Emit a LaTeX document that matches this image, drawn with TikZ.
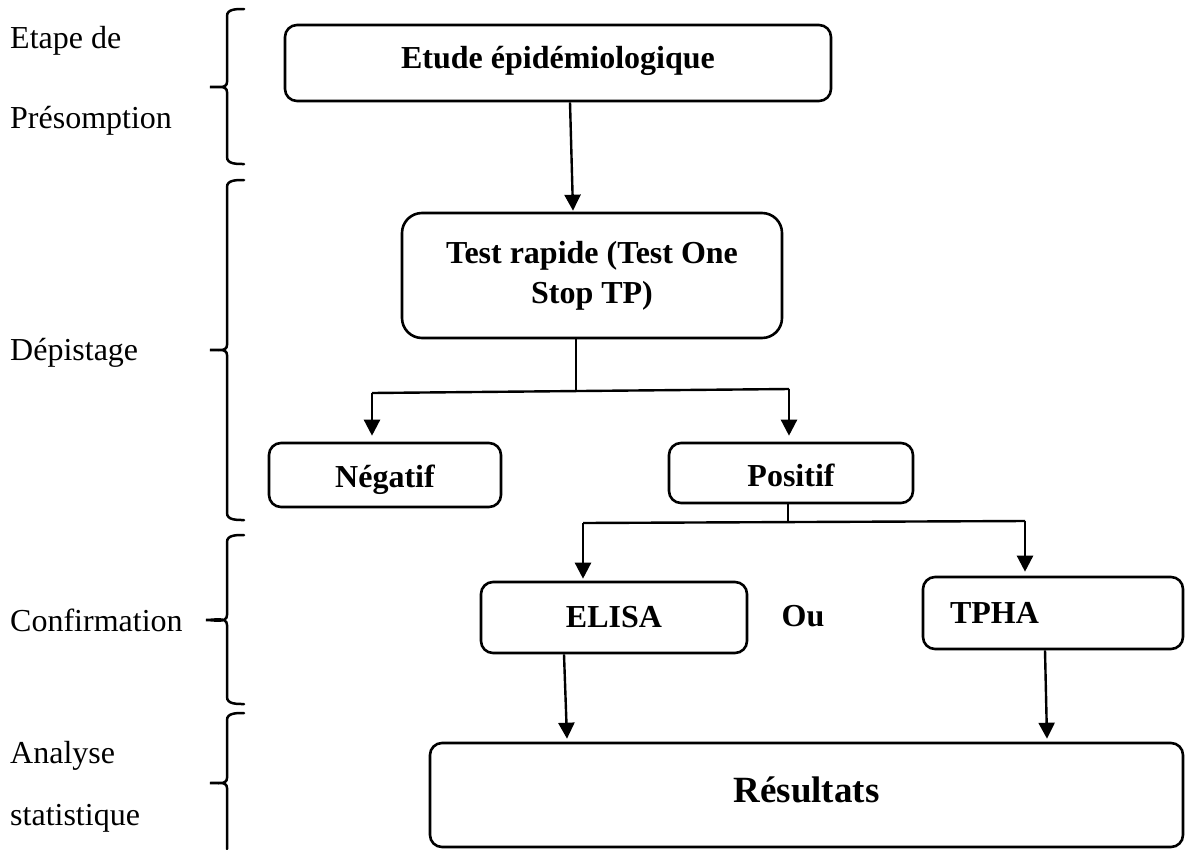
\documentclass[tikz,border=0pt]{standalone}
\usepackage{fontspec}
\setmainfont{Liberation Serif}
\usetikzlibrary{arrows.meta}
\begin{document}
\begin{tikzpicture}[x=1pt,y=-1pt,
  box/.style={draw, line width=2.6pt, rounded corners=12pt, inner sep=0pt, align=center,
              font=\fontsize{32}{40}\selectfont\bfseries},
  conn/.style={line width=2.4pt},
  arr/.style={line width=2.4pt, -{Triangle[length=16pt,width=16pt]}},
  side/.style={anchor=base west, inner sep=0pt, font=\fontsize{32}{40}\selectfont},
  brace/.style={line width=2.5pt, line cap=round}
]
\useasboundingbox (0,0) rectangle (1186,849);

% left labels
\node[side] (l1a) at (10,48) {Etape de};
\node[side] (l1b) at (10,128) {Présomption};
\node[side] (l2) at (10,360) {Dépistage};
\node[side] (l3) at (10,631) {Confirmation};
\node[side] (l4a) at (10,763) {Analyse};
\node[side] (l4b) at (10,825) {statistique};

% braces
\draw[brace] (244,9) to[out=180,in=90] (227,16) -- (227,82) to[out=-90,in=0] (210,87)
  to[out=0,in=90] (227,92) -- (227,157) to[out=-90,in=180] (244,164);
\draw[brace] (244,180) to[out=180,in=90] (227,187) -- (227,345) to[out=-90,in=0] (210,350)
  to[out=0,in=90] (227,355) -- (227,513) to[out=-90,in=180] (244,520);
\draw[brace] (244,535) to[out=180,in=90] (227,542) -- (227,615) to[out=-90,in=0] (206,620)
  to[out=0,in=90] (227,625) -- (227,697) to[out=-90,in=180] (244,704);
\draw[brace] (244,713) to[out=180,in=90] (227,720) -- (227,778) to[out=-90,in=0] (210,783)
  to[out=0,in=90] (227,788) -- (227,849);

% boxes
\node[box, minimum width=546pt, minimum height=76pt, text height=22pt, text depth=11pt] (etude) at (558,63) {Etude épidémiologique};
\node[box, rounded corners=20pt, minimum width=380pt, minimum height=125pt] (test) at (592,275.5)
  {Test rapide (Test One\\Stop TP)};
\node[box, minimum width=232pt, minimum height=64pt, text height=30pt, text depth=5pt] (neg) at (385,475) {Négatif};
\node[box, minimum width=244pt, minimum height=60pt, text height=30pt, text depth=3pt] (pos) at (791,473) {Positif};
\node[box, minimum width=266pt, minimum height=71pt, text height=27pt, text depth=7pt] (elisa) at (614,617.5) {ELISA};
\node[box, minimum width=260pt, minimum height=72pt, text width=206pt, align=left, inner xsep=27pt] (tpha) at (1053,613) {TPHA};
\node[font=\fontsize{32}{40}\selectfont\bfseries, inner sep=0pt, anchor=base] (ou) at (803,626) {Ou};
\node[box, minimum width=753pt, minimum height=104pt, text height=26pt, text depth=11.5pt, font=\fontsize{37}{44}\selectfont\bfseries] (res) at (806.5,795) {Résultats};

% connectors
\draw[arr] ([xshift=12pt]etude.south) -- ([xshift=-19pt, yshift=1pt]test.north);

\coordinate (b1M) at (576,390);
\coordinate (b1L) at (372,393);
\coordinate (b1R) at (789,389);
\draw[conn] (test.south -| b1M) -- (b1M);
\draw[conn] (b1L) -- (b1R);
\draw[arr] (b1L) -- ([yshift=6pt]neg.north -| b1L);
\draw[arr] (b1R) -- ([yshift=6pt]pos.north -| b1R);

\coordinate (b2M) at (788,522);
\coordinate (b2L) at (583,523);
\coordinate (b2R) at (1025,521);
\draw[conn] (pos.south -| b2M) -- (b2M);
\draw[conn] (b2L) -- (b2R);
\draw[arr] (b2L) -- ([yshift=2pt]elisa.north -| b2L);
\draw[arr] (b2R) -- ([yshift=4pt]tpha.north -| b2R);

\draw[arr] ([xshift=-50pt]elisa.south) -- ([xshift=-239.5pt, yshift=3pt]res.north);
\draw[arr] ([xshift=-8pt]tpha.south) -- ([xshift=240.5pt, yshift=3pt]res.north);
\end{tikzpicture}
\end{document}
